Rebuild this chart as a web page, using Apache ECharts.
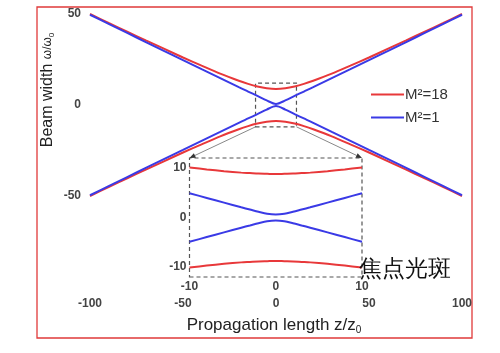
<!DOCTYPE html>
<html>
<head>
<meta charset="utf-8">
<script src="https://cdn.jsdelivr.net/npm/echarts@6/dist/echarts.min.js"></script>
<style>
  html, body { margin: 0; padding: 0; background: #fff; }
  #main { width: 500px; height: 353px; }
</style>
</head>
<body>
<div id="main"></div>
<script>
// 主图数据 (z/z0)
var zMain = [-100, -90, -80, -70, -60, -50, -40, -30, -20, -15, -10, -5, 0, 5, 10, 15, 20, 30, 40, 50, 60, 70, 80, 90, 100];
var red18Up = [50, 45.1, 40.3, 35.5, 30.8, 26.1, 21.6, 17.2, 13.3, 11.6, 10.2, 9.2, 8.8, 9.2, 10.2, 11.6, 13.3, 17.2, 21.6, 26.1, 30.8, 35.5, 40.3, 45.1, 50];
var red18Down = [-50, -45.1, -40.3, -35.5, -30.8, -26.1, -21.6, -17.2, -13.3, -11.6, -10.2, -9.2, -8.8, -9.2, -10.2, -11.6, -13.3, -17.2, -21.6, -26.1, -30.8, -35.5, -40.3, -45.1, -50];
var blue1Up = [49.6, 44.6, 39.6, 34.6, 29.6, 24.7, 19.7, 14.8, 9.8, 7.4, 5.0, 2.5, 0.6, 2.5, 5.0, 7.4, 9.8, 14.8, 19.7, 24.7, 29.6, 34.6, 39.6, 44.6, 49.6];
var blue1Down = [-49.6, -44.6, -39.6, -34.6, -29.6, -24.7, -19.7, -14.8, -9.8, -7.4, -5.0, -2.5, -0.6, -2.5, -5.0, -7.4, -9.8, -14.8, -19.7, -24.7, -29.6, -34.6, -39.6, -44.6, -49.6];

// 放大图数据
var zIn = [-10, -8, -6, -4, -3, -2, -1, 0, 1, 2, 3, 4, 6, 8, 10];
var red18InUp = [10.1, 9.7, 9.35, 9.05, 8.95, 8.85, 8.8, 8.75, 8.8, 8.85, 8.95, 9.05, 9.35, 9.7, 10.1];
var red18InDown = [-10.1, -9.7, -9.35, -9.05, -8.95, -8.85, -8.8, -8.75, -8.8, -8.85, -8.95, -9.05, -9.35, -9.7, -10.1];
var blue1InUp = [4.9, 3.95, 3.0, 2.05, 1.6, 1.15, 0.75, 0.6, 0.75, 1.15, 1.6, 2.05, 3.0, 3.95, 4.9];
var blue1InDown = [-4.9, -3.95, -3.0, -2.05, -1.6, -1.15, -0.75, -0.6, -0.75, -1.15, -1.6, -2.05, -3.0, -3.95, -4.9];

var xTicksMain = [-100, -50, 0, 50, 100];
var yTicksMain = [-50, 0, 50];
var xTicksIn = [-10, 0, 10];
var yTicksIn = [-10, 0, 10];
var zoomBoxMain = [[-11, -12], [11, 12]]; // 主图中虚线框
var zoomBoxIn = [[-10, -12], [10, 12]];

var RED = '#e8383a';
var BLUE = '#3a3ae6';
var FONT = 'Liberation Sans, Arial, sans-serif';

function pairs(xs, ys) {
    var out = [];
    for (var i = 0; i < xs.length; i++) out.push([xs[i], ys[i]]);
    return out;
}

function lineSeries(name, color, xi, yi, xs, ys) {
    return {
        name: name, type: 'line', xAxisIndex: xi, yAxisIndex: yi,
        data: pairs(xs, ys), smooth: 0.3, showSymbol: false, symbol: 'none',
        lineStyle: { color: color, width: 2 }, itemStyle: { color: color },
        z: 3, silent: true
    };
}

function boxSeries(xi, yi, box) {
    return {
        type: 'line', xAxisIndex: xi, yAxisIndex: yi, data: [], silent: true,
        markArea: {
            silent: true,
            itemStyle: { color: 'rgba(0,0,0,0)', borderColor: '#555', borderWidth: 1.2, borderType: [4, 3] },
            data: [[{ coord: box[0] }, { coord: box[1] }]]
        }
    };
}

var labelStyle = { color: '#444', fontSize: 12, fontWeight: 'bold', fontFamily: FONT };

var myChart = echarts.init(document.getElementById('main'));
var option = {
    animation: false,
    backgroundColor: '#fff',
    grid: [
        { left: 90, top: 14, width: 372, height: 182 },
        { left: 189.5, top: 158, width: 172.5, height: 119 }
    ],
    xAxis: [
        {
            gridIndex: 0, type: 'value', min: -100, max: 100,
            axisLine: { show: false }, axisTick: { show: false }, splitLine: { show: false },
            axisLabel: Object.assign({ margin: 102, customValues: xTicksMain }, labelStyle)
        },
        {
            gridIndex: 1, type: 'value', min: -10, max: 10,
            axisLine: { show: false }, axisTick: { show: false }, splitLine: { show: false },
            axisLabel: Object.assign({ margin: 4, customValues: xTicksIn }, labelStyle)
        }
    ],
    yAxis: [
        {
            gridIndex: 0, type: 'value', min: -50, max: 50,
            axisLine: { show: false }, axisTick: { show: false }, splitLine: { show: false },
            axisLabel: Object.assign({ margin: 9, customValues: yTicksMain }, labelStyle)
        },
        {
            gridIndex: 1, type: 'value', min: -12, max: 12,
            axisLine: { show: false }, axisTick: { show: false }, splitLine: { show: false },
            axisLabel: Object.assign({ margin: 3, customValues: yTicksIn }, labelStyle)
        }
    ],
    legend: {
        orient: 'vertical', left: 366, top: 82, itemGap: 8,
        itemWidth: 33, itemHeight: 2, icon: 'rect',
        data: ['M²=18', 'M²=1'],
        textStyle: { color: '#333', fontSize: 15, fontFamily: FONT, padding: [0, 0, 0, -4] }
    },
    series: [
        lineSeries('M²=18', RED, 0, 0, zMain, red18Up),
        lineSeries('M²=18', RED, 0, 0, zMain, red18Down),
        lineSeries('M²=1', BLUE, 0, 0, zMain, blue1Up),
        lineSeries('M²=1', BLUE, 0, 0, zMain, blue1Down),
        lineSeries('M²=18', RED, 1, 1, zIn, red18InUp),
        lineSeries('M²=18', RED, 1, 1, zIn, red18InDown),
        lineSeries('M²=1', BLUE, 1, 1, zIn, blue1InUp),
        lineSeries('M²=1', BLUE, 1, 1, zIn, blue1InDown),
        boxSeries(0, 0, zoomBoxMain),
        boxSeries(1, 1, zoomBoxIn)
    ]
};
myChart.setOption(option);

// 连接线（带箭头）+ 外框 + 标题文字
function arrow(p0, p1) {
    var ang = Math.atan2(p1[1] - p0[1], p1[0] - p0[0]);
    var L = 6, W = 2.5;
    var bx = p1[0] - L * Math.cos(ang), by = p1[1] - L * Math.sin(ang);
    return [
        { type: 'line', shape: { x1: p0[0], y1: p0[1], x2: bx, y2: by }, style: { stroke: '#888', lineWidth: 1 }, z: 10 },
        { type: 'polygon', shape: { points: [p1,
            [bx + W * Math.sin(ang), by - W * Math.cos(ang)],
            [bx - W * Math.sin(ang), by + W * Math.cos(ang)]] }, style: { fill: '#333' }, z: 10 }
    ];
}

var pA0 = myChart.convertToPixel({ gridIndex: 0 }, [zoomBoxMain[0][0], zoomBoxMain[0][1]]);
var pA1 = myChart.convertToPixel({ gridIndex: 1 }, [zoomBoxIn[0][0], zoomBoxIn[1][1]]);
var pB0 = myChart.convertToPixel({ gridIndex: 0 }, [zoomBoxMain[1][0], zoomBoxMain[0][1]]);
var pB1 = myChart.convertToPixel({ gridIndex: 1 }, [zoomBoxIn[1][0], zoomBoxIn[1][1]]);

var graphics = [
    { type: 'rect', shape: { x: 37, y: 7, width: 435, height: 331 }, style: { fill: 'none', stroke: '#e03a3a', lineWidth: 1.3 }, z: 0, silent: true },
    {
        type: 'text', x: 48, y: 90, rotation: Math.PI / 2, z: 10,
        style: {
            text: '{a|Beam width }{b|ω/ω}{c|0}', align: 'center', verticalAlign: 'middle',
            rich: {
                a: { fontSize: 16, fontFamily: FONT, fill: '#222' },
                b: { fontSize: 12, fontFamily: FONT, fill: '#222' },
                c: { fontSize: 8, fontFamily: FONT, fill: '#222', padding: [8, 0, 0, 0] }
            }
        }
    },
    {
        type: 'text', x: 274, y: 325, z: 10,
        style: {
            text: '{a|Propagation length z/z}{c|0}', align: 'center', verticalAlign: 'middle',
            rich: {
                a: { fontSize: 17, fontFamily: FONT, fill: '#222' },
                c: { fontSize: 10, fontFamily: FONT, fill: '#222', padding: [10, 0, 0, 0] }
            }
        }
    },
    {
        type: 'text', x: 359, y: 270, z: 10,
        style: { text: '焦点光斑', fontSize: 23, fontFamily: 'serif', fill: '#111', verticalAlign: 'middle' }
    }
].concat(arrow(pA0, pA1)).concat(arrow(pB0, pB1));

myChart.setOption({ graphic: graphics });
</script>
</body>
</html>
